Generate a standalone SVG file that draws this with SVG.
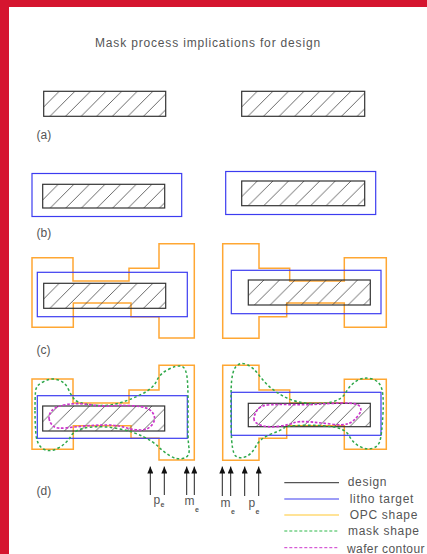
<svg xmlns="http://www.w3.org/2000/svg" width="427" height="554" viewBox="0 0 427 554">
<style>
text{font-family:"Liberation Sans",Arial,sans-serif;fill:#555;font-size:12px}
.t{letter-spacing:.83px}
.l{letter-spacing:.7px}
.d{fill:url(#hatch);stroke:#333;stroke-width:1.2}
.b{fill:none;stroke:#3c3cf0;stroke-width:1.2}
.o{fill:none;stroke:#ffa733;stroke-width:1.5}
.g{fill:none;stroke:#2fa84a;stroke-width:4.5;stroke-dasharray:8 7}
.m{fill:none;stroke:#cc35cc;stroke-width:5;stroke-dasharray:8 5}
.a{stroke:#222;stroke-width:1;marker-end:url(#arrow)}
.s{font-size:7px;font-weight:bold}
</style>
<defs>
<pattern id="hatch" patternUnits="userSpaceOnUse" width="15.6" height="15.6">
<path d="M-2 17.6L17.6-2M-2 2L2-2M13.6 17.6L17.6 13.6" stroke="#444" stroke-width=".8" fill="none"/>
</pattern>
<marker id="arrow" markerUnits="userSpaceOnUse" markerWidth="7" markerHeight="6" refX="7" refY="3" orient="auto" viewBox="0 0 7 6">
<path d="M0 0L7 3L0 6Z" fill="#111"/>
</marker>
</defs>
<rect width="427" height="554" fill="#fff"/>
<rect width="427" height="7" fill="#d5152f"/>
<rect width="9" height="554" fill="#d5152f"/>
<text id="title" class="t" x="95" y="46.5">Mask process implications for design</text>
<g id="a-left"><rect class="d" transform="translate(43.7 91.3)" width="122" height="25"/></g>
<g id="a-right"><rect class="d" transform="translate(241.7 91.3)" width="123" height="25"/></g>
<text id="label-a" x="36.5" y="139">(a)</text>
<g id="b-left"><rect class="b" x="32" y="173.5" width="149.7" height="43"/><rect class="d" transform="translate(42.7 184.3)" width="122" height="23.7"/></g>
<g id="b-right"><rect class="b" x="225.7" y="171.5" width="150" height="43"/><rect class="d" transform="translate(241.7 181)" width="123" height="24.7"/></g>
<text id="label-b" x="36.5" y="237">(b)</text>
<g id="c-left">
<path class="o" d="M32 257.7H73V281H129V268.3H159V243.7H194.3V338H159V316.7H131V303H73.3V327.3H32Z"/>
<rect class="b" x="37.3" y="272.3" width="150" height="44.4"/>
<rect class="d" transform="translate(43.7 283.3)" width="122" height="25"/>
</g>
<g id="c-right">
<path class="o" d="M222.7 243.7H259V268.3H289.7V281H344.3V257.7H386.3V327.3H344.3V303H286.7V316.7H259V338.3H222.7Z"/>
<rect class="b" x="231.3" y="270.3" width="149.7" height="43.4"/>
<rect class="d" transform="translate(248.3 280)" width="122" height="25"/>
</g>
<text id="label-c" x="36.5" y="354">(c)</text>
<g id="d-left">
<path class="o" d="M32 379H73V403H129V390H159V365.3H194.3V460H159V438.3H131V425.7H73.3V449.3H32Z"/>
<rect class="b" x="37.3" y="395.7" width="150" height="42.6"/>
<rect class="d" transform="translate(42.7 406)" width="122" height="25"/>
<g transform="translate(20 355) scale(.33333)">
<path class="g" d="M45 165Q45 130 46.5 110Q48 90 69 81Q90 68 112.5 74Q135 80 145 102.5Q155 125 165 135Q175 145 217.5 150Q260 155 295 145Q330 135 365 117.5Q400 100 410 77.5Q420 55 445 43.5Q470 30 485 34Q500 38 502.5 80Q505 120 504 185Q503 250 506.5 275Q512 305 490 310Q470 315 450 302.5Q430 290 415 275Q400 260 370 245Q340 230 295 221Q250 212 207.5 217Q165 222 152.5 243.5Q140 265 115 279Q90 293 70 282Q50 270 47.5 235Q45 200 45 165Z"/>
<path class="m" d="M87.5 192.5Q85 180 95 167.5Q105 155 137.5 149Q170 143 210 149Q250 155 275 152.5Q300 150 342.5 152.5Q385 155 397.5 172.5Q410 190 397.5 207.5Q385 225 362.5 225Q340 225 315 217.5Q290 210 260 210Q230 210 200 212.5Q170 215 140 218.5Q110 222 100 213.5Q90 205 87.5 192.5Z"/>
</g>
</g>
<g id="d-right">
<path class="o" d="M222.7 365.3H259V390H289.7V403H344.3V379.3H386.3V449.3H344.3V425.7H286.7V438.3H259V460.3H222.7Z"/>
<rect class="b" x="231.3" y="392.3" width="149.7" height="43"/>
<rect class="d" transform="translate(248.3 403.3)" width="122" height="23.4"/>
<g transform="translate(210 355) scale(.33333)">
<path class="g" d="M63.5 100Q65 50 77.5 35Q90 20 110 28.5Q130 37 147.5 61Q165 85 187.5 102.5Q210 120 235 131Q260 142 295 145Q330 148 362.5 141.5Q395 135 407.5 112.5Q420 90 440 77.5Q460 65 485 71.5Q510 78 516 104Q522 130 518.5 185Q515 240 510 257.5Q505 275 487.5 280Q470 285 450 275Q430 265 417.5 242.5Q405 220 367.5 215Q330 210 280 211Q230 212 222.5 218.5Q215 225 182.5 237.5Q150 250 137.5 274Q125 298 107.5 305Q90 312 77.5 303.5Q65 295 63.5 222.5Q62 150 63.5 100Z"/>
<path class="m" d="M132.5 195Q130 185 140 167.5Q150 150 182.5 149Q215 148 252.5 149Q290 150 325 147.5Q360 145 400 144Q440 143 449 154Q458 165 444 182.5Q430 200 415 206Q400 212 365 207.5Q330 203 297.5 200.5Q265 198 250 204Q235 210 205 214Q175 218 155 211.5Q135 205 132.5 195Z"/>
</g>
</g>
<text id="label-d" x="36.5" y="495">(d)</text>
<g id="connectors">
<line class="a" x1="150.3" y1="495" x2="150.3" y2="466.5"/>
<line class="a" x1="164.3" y1="495" x2="164.3" y2="466.5"/>
<line class="a" x1="186.7" y1="495" x2="186.7" y2="466.5"/>
<line class="a" x1="194.3" y1="495" x2="194.3" y2="466.5"/>
<line class="a" x1="222.3" y1="496" x2="222.3" y2="466.5"/>
<line class="a" x1="230.7" y1="496" x2="230.7" y2="466.5"/>
<line class="a" x1="244.7" y1="496" x2="244.7" y2="466.5"/>
<line class="a" x1="258.7" y1="496" x2="258.7" y2="466.5"/>
</g>
<g id="edge-labels">
<text x="153.5" y="504">p</text><text class="s" x="160.5" y="507">e</text>
<text x="184.5" y="505">m</text><text class="s" x="195" y="512">e</text>
<text x="220.5" y="507">m</text><text class="s" x="231" y="514">e</text>
<text x="248.5" y="507">p</text><text class="s" x="255.5" y="514">e</text>
</g>
<g id="legend">
<line x1="284.3" x2="339" y1="482.7" y2="482.7" stroke="#555" stroke-width="1.2"/>
<line x1="284.3" x2="339" y1="499" y2="499" stroke="#3c3cf0" stroke-width="1.2"/>
<line x1="284.3" x2="339" y1="515" y2="515" stroke="#ffc830" stroke-width="1.2"/>
<line x1="284.3" x2="339" y1="531" y2="531" stroke="#2fb84a" stroke-dasharray="3 2"/>
<line x1="284.3" x2="339" y1="547.7" y2="547.7" stroke="#cc35cc" stroke-dasharray="3 2"/>
<text class="l" x="347.7" y="485.5">design</text>
<text class="l" x="349.7" y="502.5">litho target</text>
<text class="l" x="349.7" y="518.5">OPC shape</text>
<text class="l" x="348" y="535">mask shape</text>
<text x="347" y="552.5" style="letter-spacing:.4px">wafer contour</text>
</g>
</svg>
